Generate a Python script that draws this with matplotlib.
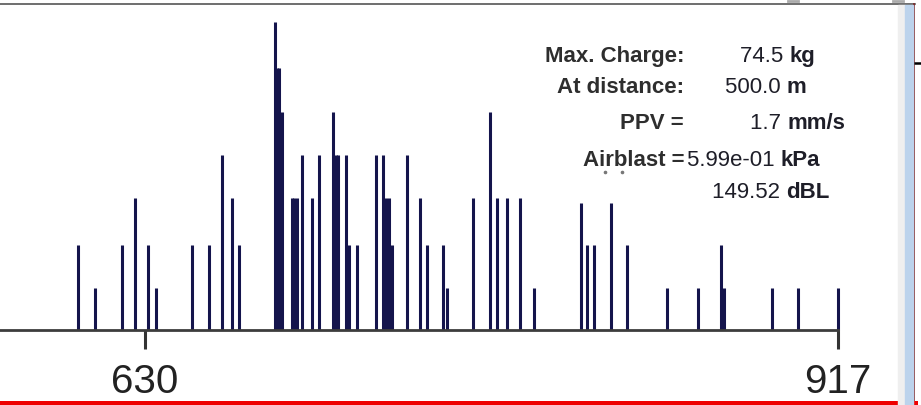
import matplotlib
matplotlib.use("Agg")
import matplotlib.pyplot as plt
from matplotlib.lines import Line2D
from matplotlib.patches import Rectangle

plt.rcParams['font.family'] = ['Liberation Sans', 'DejaVu Sans']

# firing times (ms) and charge per delay (kg)
times = [602.4, 609.3, 620.4, 625.9, 631.4, 634.4, 649.6, 656.5, 662.0, 666.2,
         668.9, 683.8, 684.9, 685.7, 686.7, 690.9, 691.9, 692.9, 695.1, 699.3,
         702.2, 707.7, 709.0, 710.0, 713.2, 714.6, 717.7, 725.7, 728.5, 729.8,
         731.2, 732.5, 738.4, 743.9, 746.7, 753.5, 755.0, 766.0, 772.9, 775.7,
         779.8, 785.3, 791.1, 810.4, 813.1, 815.9, 822.9, 829.8, 846.3, 858.9,
         868.4, 869.9, 889.5, 900.6, 917.0]
charges = [20.6, 10.2, 20.6, 31.9, 20.6, 10.2, 20.6, 20.6, 42.3, 31.9,
           20.6, 74.5, 63.4, 63.4, 52.7, 31.9, 31.9, 31.9, 42.3, 31.9,
           42.3, 52.7, 42.3, 42.3, 42.3, 20.6, 20.6, 42.3, 42.3, 31.9,
           31.9, 20.6, 42.3, 31.9, 20.6, 20.6, 10.2, 31.9, 52.7, 31.9,
           31.9, 31.9, 10.2, 30.7, 20.6, 20.6, 30.7, 20.6, 10.2, 10.2,
           20.6, 10.2, 10.2, 10.2, 10.2]
tick_vals = [630, 917]

labels = ["Max. Charge:", "At distance:", "PPV =", "Airblast ="]
values = ["74.5", "500.0", "1.7", "5.99e-01", "149.52"]
units = ["kg", "m", "mm/s", "kPa", "dBL"]

W, H = 921, 405
fig = plt.figure(figsize=(W / 100, H / 100), dpi=100)
ax = fig.add_axes([0, 0, 1, 1])
ax.set_xlim(570, 951.4)
ax.set_ylim(-18.14, 79.82)

ax.vlines(times, 0, charges, colors='#14144c', linewidth=2.2)

for s in ['top', 'left', 'right']:
    ax.spines[s].set_visible(False)
ax.spines['bottom'].set_position(('data', 0))
ax.spines['bottom'].set_bounds(570, 917)
ax.spines['bottom'].set_color('#3c3c3c')
ax.spines['bottom'].set_linewidth(2)
ax.set_yticks([])
ax.set_xticks(tick_vals)
ax.set_xticklabels([str(t) for t in tick_vals])
ax.tick_params(axis='x', direction='out', length=14, width=2.2, color='#333333',
               labelsize=29, labelcolor='#222222', pad=10)


def px(x, y):
    return x / W, 1 - y / H


# info text block
fs = 16
lab_y = [61.7, 92.7, 129, 166]
for t, y in zip(labels, lab_y):
    fig.text(*px(684, y), t, ha='right', va='baseline', fontsize=fs,
             fontweight='bold', color='#2e2e2e')

val_x = [740, 725, 750, 687, 712]
val_y = [61.7, 92.7, 129, 166, 198.3]
r = fig.canvas.get_renderer()
for v, u, x, y in zip(values, units, val_x, val_y):
    txt = fig.text(*px(x, y), v + " ", ha='left', va='baseline', fontsize=fs,
                   color='#1e1e28')
    bb = txt.get_window_extent(renderer=r)
    fig.text(bb.x1 / W, 1 - y / H, u, ha='left', va='baseline', fontsize=fs,
             fontweight='bold', color='#1e1e28')

# two stray dots under "Airblast"
fig.add_artist(Line2D([605 / W, 622 / W], [1 - 172 / H, 1 - 172 / H],
                      linestyle='none', marker='o', markersize=1.6,
                      color='#777777', transform=fig.transFigure))


# window frame decorations
def hline(x0, x1, y, c, lw):
    fig.add_artist(Line2D([x0 / W, x1 / W], [1 - y / H, 1 - y / H], color=c,
                          linewidth=lw, transform=fig.transFigure))


def vline(x, y0, y1, c, lw):
    fig.add_artist(Line2D([x / W, x / W], [1 - y0 / H, 1 - y1 / H], color=c,
                          linewidth=lw, transform=fig.transFigure))


fig.add_artist(Rectangle((898 / W, 0), 7 / W, 1 - 5 / H, color='#efefef',
                         transform=fig.transFigure, zorder=5))
fig.add_artist(Rectangle((905 / W, 0), 8 / W, 1 - 5 / H, color='#bcd3ec',
                         transform=fig.transFigure, zorder=5))
hline(0, 915, 4, '#555555', 1.2)
vline(914, 4, H, '#7a2020', 1.2)
hline(915, W, 63, '#000000', 1.8)
hline(0, 915, 402.5, '#ee0000', 3.6)
hline(788, 798, 1, '#aaaaaa', 2)
hline(893, 903, 1, '#aaaaaa', 2)

fig.savefig("out.png", dpi=100)
